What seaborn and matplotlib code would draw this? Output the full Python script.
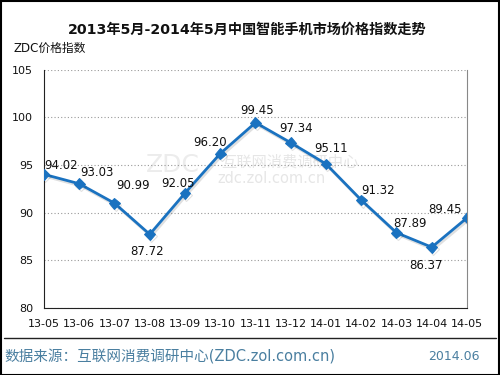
import matplotlib
matplotlib.use("Agg")
import matplotlib.pyplot as plt
import matplotlib.patheffects as pe
from matplotlib.lines import Line2D
from matplotlib.patches import Rectangle
import pandas as pd
import seaborn as sns

months = ["13-05", "13-06", "13-07", "13-08", "13-09", "13-10", "13-11",
          "13-12", "14-01", "14-02", "14-03", "14-04", "14-05"]
price_index = [94.02, 93.03, 90.99, 87.72, 92.05, 96.20, 99.45,
               97.34, 95.11, 91.32, 87.89, 86.37, 89.45]
y_ticks = [80, 85, 90, 95, 100, 105]

# label offsets (points) so the numbers sit roughly where the original had them
label_offsets = [(12, 6.5), (13, 8), (13.5, 13), (-2, -12), (-5, 7), (-7, 8), (1, 8.5),
                 (3.5, 10), (3.5, 11), (12, 7), (9.5, 6.5), (-4, -13), (-16, 6)]

sns.set_style("white")
plt.rcParams['font.family'] = ['DejaVu Sans', 'Noto Sans CJK SC']

df = pd.DataFrame({"x": range(len(months)), "value": price_index})

fig = plt.figure(figsize=(5, 3.75), dpi=100)
ax = fig.add_axes([0.088, 0.179, 0.846, 0.635])

# faint watermark behind the line
wm = dict(transform=fig.transFigure, ha="center", va="center", zorder=0.5)
ax.text(0.345, 0.561, "ZDC", fontsize=18, color="#ececec", **wm)
ax.text(0.58, 0.568, "互联网消费调研中心", fontsize=11, color="#e6e6e6", **wm)
ax.text(0.543, 0.525, "zdc.zol.com.cn", fontsize=10.5, color="#e6e6e6", **wm)

line_color = "#1a72c0"
sns.lineplot(data=df, x="x", y="value", ax=ax, color=line_color, linewidth=2,
             marker="D", markersize=5.5, markeredgecolor=line_color, zorder=3,
             path_effects=[pe.SimpleLineShadow(offset=(1, -1.5), alpha=0.12), pe.Normal()])

for i, v in enumerate(price_index):
    ax.annotate(f"{v:.2f}", (i, v), xytext=label_offsets[i], textcoords="offset points",
                ha="center", va="center", fontsize=8.5, color="#111111", zorder=4)

ax.set_xlim(0, len(months) - 1)
ax.set_ylim(80, 105)
ax.set_yticks(y_ticks)
ax.set_xticks(range(len(months)))
ax.set_xticklabels(months)
ax.set_xlabel("")
ax.set_ylabel("")
ax.yaxis.grid(True, linestyle=(0, (1, 2)), color="#999999", linewidth=0.8)
ax.tick_params(axis="x", direction="in", length=3, labelsize=8, pad=8, colors="#222222")
ax.tick_params(axis="y", direction="out", length=3, labelsize=8, pad=5, colors="#222222")
for lbl in ax.get_xticklabels() + ax.get_yticklabels():
    lbl.set_color("#111111")

ax.spines["top"].set_visible(False)
ax.spines["right"].set_color("#888888")
ax.spines["left"].set_color("#222222")
ax.spines["bottom"].set_color("#222222")

fig.text(0.494, 0.92, "2013年5月-2014年5月中国智能手机市场价格指数走势", ha="center",
         va="center", fontsize=10.2, fontweight="bold", color="#111111")
fig.text(0.028, 0.872, "ZDC价格指数", ha="left", va="center", fontsize=8.5, color="#111111")

fig.add_artist(Line2D([0.008, 0.992], [0.099, 0.099], color="#222222", linewidth=1))
fig.text(0.008, 0.048, "数据来源：互联网消费调研中心(ZDC.zol.com.cn)", ha="left",
         va="center", fontsize=10.5, color="#4a7fa0")
fig.text(0.96, 0.048, "2014.06", ha="right", va="center", fontsize=9, color="#4a7fa0")

fig.add_artist(Rectangle((0.001, 0.001), 0.997, 0.996, transform=fig.transFigure,
                         fill=False, edgecolor="black", linewidth=1.5))

fig.savefig("out.png", dpi=100)
